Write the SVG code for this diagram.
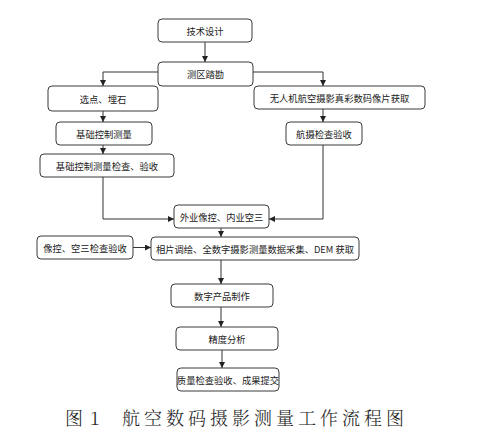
<svg xmlns="http://www.w3.org/2000/svg" width="502" height="441" viewBox="0 0 502 441">
<defs>
<style>
.b{fill:#fff;stroke:#3a3a3a;stroke-width:1}
.t{font-family:"Noto Sans CJK SC","Liberation Sans",sans-serif;font-size:9.3px;fill:#222;text-anchor:middle;dominant-baseline:central}
.c{fill:none;stroke:#333;stroke-width:1}
.cap{font-family:"Noto Serif CJK SC","Noto Sans CJK SC","Liberation Serif",serif;font-size:18px;fill:#222;font-weight:300}
</style>
<marker id="a" viewBox="0 0 8 8" refX="8" refY="4" markerWidth="6" markerHeight="6" markerUnits="userSpaceOnUse" orient="auto">
<path d="M0,0 L8,4 L0,8 Z" fill="#222"/>
</marker>
</defs>
<rect width="502" height="441" fill="#fff"/>
<g id="connectors">
<line class="c" x1="205" y1="42" x2="205" y2="62" marker-end="url(#a)"/>
<polyline class="c" points="158,72 103,72 103,86" marker-end="url(#a)"/>
<polyline class="c" points="253,72 323,72 323,86" marker-end="url(#a)"/>
<line class="c" x1="103" y1="111" x2="103" y2="122" marker-end="url(#a)"/>
<line class="c" x1="323" y1="109" x2="323" y2="122" marker-end="url(#a)"/>
<line class="c" x1="103" y1="145" x2="103" y2="154" marker-end="url(#a)"/>
<polyline class="c" points="103,177 103,219 174,219" marker-end="url(#a)"/>
<polyline class="c" points="323,145 323,219 269,219" marker-end="url(#a)"/>
<line class="c" x1="221" y1="228" x2="221" y2="237" marker-end="url(#a)"/>
<line class="c" x1="133" y1="247.5" x2="151" y2="247.5" marker-end="url(#a)"/>
<line class="c" x1="221" y1="260" x2="221" y2="284" marker-end="url(#a)"/>
<line class="c" x1="221" y1="307" x2="221" y2="327" marker-end="url(#a)"/>
<line class="c" x1="222" y1="350" x2="222" y2="368" marker-end="url(#a)"/>
</g>
<g id="n1"><rect class="b" x="158" y="19" width="94" height="23" rx="4"/><text class="t" x="205" y="30.5">技术设计</text></g>
<g id="n2"><rect class="b" x="158" y="62" width="95" height="24" rx="4"/><text class="t" x="205.5" y="74">测区踏勘</text></g>
<g id="n3"><rect class="b" x="48" y="86" width="110" height="25" rx="4"/><text class="t" x="103" y="98.5">选点、埋石</text></g>
<g id="n4"><rect class="b" x="254" y="86" width="171" height="23" rx="4"/><text class="t" x="339.5" y="97.5">无人机航空摄影真彩数码像片获取</text></g>
<g id="n5"><rect class="b" x="56" y="122" width="96" height="23" rx="4"/><text class="t" x="104" y="133.5">基础控制测量</text></g>
<g id="n6"><rect class="b" x="286" y="122" width="76" height="23" rx="4"/><text class="t" x="324" y="133.5">航摄检查验收</text></g>
<g id="n7"><rect class="b" x="40" y="154" width="134" height="23" rx="4"/><text class="t" x="107" y="165.5">基础控制测量检查、验收</text></g>
<g id="n8"><rect class="b" x="174" y="205" width="95" height="23" rx="4"/><text class="t" x="221.5" y="216.5">外业像控、内业空三</text></g>
<g id="n9"><rect class="b" x="37" y="236" width="96" height="23" rx="4"/><text class="t" x="85" y="247.5">像控、空三检查验收</text></g>
<g id="n10"><rect class="b" x="151" y="237" width="208" height="23" rx="4"/><text class="t" x="255" y="248.5">相片调绘、全数字摄影测量数据采集、DEM 获取</text></g>
<g id="n11"><rect class="b" x="171" y="284" width="102" height="23" rx="4"/><text class="t" x="222" y="295.5">数字产品制作</text></g>
<g id="n12"><rect class="b" x="176" y="327" width="102" height="23" rx="4"/><text class="t" x="227" y="338.5">精度分析</text></g>
<g id="n13"><rect class="b" x="177" y="368" width="102" height="23" rx="4"/><text class="t" x="228" y="379.5">质量检查验收、成果提交</text></g>
<g id="caption">
<text class="cap" x="65" y="425">图</text>
<text class="cap" x="90" y="425">1</text>
<text class="cap" x="122" y="425" letter-spacing="4">航空数码摄影测量工作流程图</text>
</g>
</svg>
